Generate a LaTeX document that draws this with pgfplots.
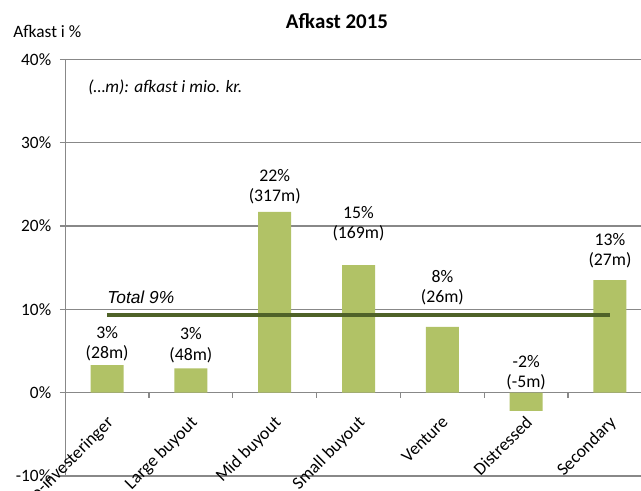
\documentclass[border=0pt]{standalone}
\usepackage{pgfplots}
\pgfplotsset{compat=1.18}
\usepackage{pgfplotstable}
\usepackage{fontspec}
\setmainfont{Carlito}
\newfontfamily\arial{Liberation Sans}
\definecolor{barc}{RGB}{177,194,102}
\definecolor{totc}{RGB}{79,98,40}
\definecolor{gridc}{RGB}{136,136,136}
\pgfplotstableread{
x val pct mio ly
0 3.3 3 28 6.0
1 2.9 3 48 5.8
2 21.7 22 317 24.8
3 15.3 15 169 20.4
4 7.9 8 26 12.7
5 -2.2 -2 -5 2.5
6 13.5 13 27 17.1
}\datatab
\begin{document}
\begin{tikzpicture}
\begin{axis}[
  at={(48.9pt,11.3pt)}, anchor=south west,
  scale only axis, width=440pt, height=312.4pt,
  xmin=-0.5, xmax=6.5, ymin=-10, ymax=40,
  axis x line*=middle, axis y line*=left,
  hide obscured x ticks=false,
  axis line style={gridc, line width=0.9pt},
  ymajorgrids, grid style={gridc, line width=0.9pt},
  ytick={-10,0,...,40},
  yticklabel={\pgfmathprintnumber{\tick}\%},
  /pgf/number format/assume math mode=true,
  yticklabel style={font=\fontsize{13}{15.6}\selectfont, xshift=-3pt},
  ytick style={gridc, line width=0.9pt},
  major tick length=4pt,
  tick align=outside,
  xtick={0,...,6},
  xticklabels={Co-investeringer, Large buyout, Mid buyout, Small buyout, Venture, Distressed, Secondary},
  xticklabel style={font=\fontsize{13.3}{15.6}\selectfont, xshift=-1.2pt, yshift=-12.5pt, rotate=45, anchor=north east, inner sep=0pt},
  x tick style={draw=none},
  minor xtick={0.5,1.5,...,5.5},
  minor x tick style={gridc, line width=0.9pt, draw=gridc},
  minor tick length=4pt,
  bar width=24.75pt,
  clip=false,
]
\addplot[ybar, bar shift=0pt, fill=barc, draw=none] table[x=x, y=val] {\datatab};
\addplot[totc, line width=3pt, mark=none] coordinates {(0,9.3) (6,9.3)};
\addplot[draw=none, mark=none, point meta=explicit symbolic,
  nodes near coords={\pgfplotspointmeta\%},
  every node near coord/.append style={anchor=center, inner sep=0pt, yshift=7.9pt, font=\fontsize{13.3}{15.75}\selectfont}]
  table[x=x, y=ly, meta=pct] {\datatab};
\addplot[draw=none, mark=none, point meta=explicit symbolic,
  nodes near coords={(\pgfplotspointmeta m)},
  every node near coord/.append style={anchor=center, inner sep=0pt, yshift=-7.9pt, font=\fontsize{13.3}{15.75}\selectfont}]
  table[x=x, y=ly, meta=mio] {\datatab};
\node[anchor=west, inner sep=0pt, font=\arial\itshape\fontsize{13}{15.6}\selectfont] at (axis cs:0,11.5) {Total 9\%};
\node[anchor=west, inner sep=0pt, font=\itshape\fontsize{13}{15.6}\selectfont] at (axis cs:-0.228,36.7) {(…m): afkast i mio. kr.};
\end{axis}
\node[anchor=west, inner sep=0pt, font=\fontsize{13}{15.6}\selectfont] at (9.75pt,345pt) {Afkast i \%};
\node[anchor=center, inner sep=0pt, font=\bfseries\fontsize{15.7}{18}\selectfont] at (252.75pt,352.5pt) {Afkast 2015};
\pgfresetboundingbox
\useasboundingbox (0,0) rectangle (480.75pt,368.25pt);
\end{tikzpicture}
\end{document}
